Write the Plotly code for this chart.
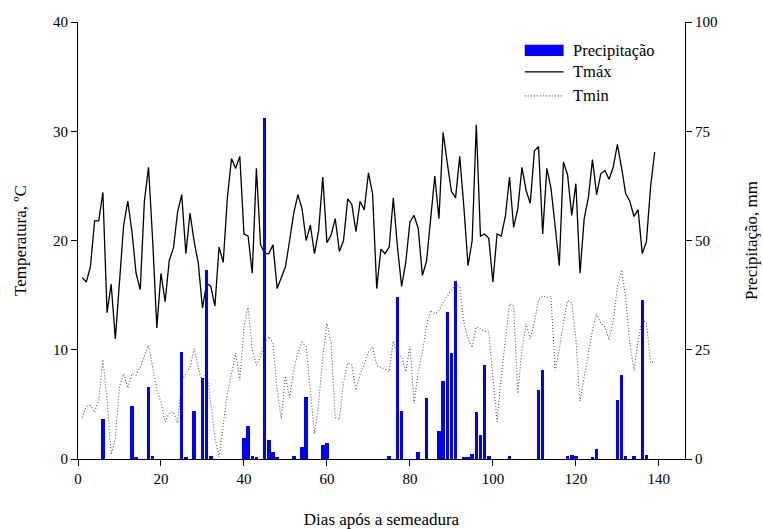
import plotly.graph_objects as go

days = list(range(1, 140))

tmax = [16.6, 16.2, 17.6, 21.8, 21.8, 24.4, 13.4, 16.0, 11.0, 16.4,
        21.4, 23.6, 20.8, 17.0, 15.5, 23.6, 26.7, 20.0, 12.0, 17.0,
        14.4, 18.2, 19.3, 22.6, 24.2, 18.8, 22.5, 19.9, 17.9, 13.8,
        16.1, 15.8, 14.0, 19.4, 18.0, 23.9, 27.5, 26.6, 27.7, 20.6,
        20.4, 17.0, 26.6, 19.6, 18.8, 18.8, 19.6, 15.6, 16.7, 17.6,
        20.0, 22.5, 24.2, 22.9, 20.0, 21.4, 18.8, 20.9, 25.8, 19.8,
        20.5, 22.0, 19.0, 20.0, 23.8, 23.3, 20.8, 23.6, 22.8, 26.2,
        24.3, 15.6, 19.2, 18.8, 19.4, 23.9, 19.4, 15.8, 18.0, 21.7,
        22.3, 21.1, 16.8, 18.1, 22.0, 25.9, 22.0, 29.9, 27.1, 24.5,
        23.9, 27.7, 23.1, 17.7, 20.0, 30.6, 20.4, 20.6, 20.2, 16.2,
        20.6, 20.4, 22.2, 25.8, 21.2, 22.9, 26.7, 24.6, 23.4, 28.2,
        28.6, 20.6, 26.6, 24.8, 21.3, 17.7, 27.2, 26.0, 22.3, 25.2,
        17.0, 22.0, 23.9, 27.4, 24.2, 26.1, 26.4, 25.6, 26.7, 28.8,
        26.7, 24.3, 23.6, 22.2, 22.8, 18.8, 19.9, 24.9, 28.1]

tmin = [3.8, 4.8, 4.9, 4.3, 5.4, 9.1, 5.4, 0.4, 1.9, 6.6,
        7.8, 6.5, 7.8, 7.7, 8.4, 9.4, 10.4, 8.4, 6.3, 5.2,
        3.4, 4.2, 4.3, 3.3, 7.2, 7.8, 8.4, 10.1, 8.3, 6.9,
        8.1, 5.1, 1.9, 0.2, 3.3, 6.0, 7.8, 9.7, 7.2, 12.1,
        14.0, 10.0, 8.6, 9.4, 10.6, 11.2, 10.6, 6.3, 3.7, 7.6,
        5.6, 8.1, 9.7, 10.7, 10.3, 6.0, 2.3, 5.1, 9.4, 12.4,
        10.6, 3.8, 3.6, 7.0, 8.8, 8.6, 6.3, 7.8, 8.6, 9.8,
        10.3, 8.6, 8.4, 8.2, 8.0, 10.8, 9.4, 9.4, 8.0, 10.3,
        5.1, 8.0, 9.8, 12.2, 13.6, 13.3, 13.6, 14.3, 14.9, 15.5,
        15.9, 15.8, 12.5, 11.0, 10.2, 12.1, 11.9, 11.7, 11.6, 7.5,
        3.4, 7.5, 11.0, 14.2, 14.0, 6.0, 10.0, 12.4, 11.0, 12.5,
        14.6, 14.9, 14.8, 14.9, 8.1, 10.0, 12.4, 14.5, 14.3, 11.0,
        5.3, 7.5, 10.0, 11.8, 13.3, 12.4, 12.1, 10.9, 12.7, 15.7,
        17.3, 14.8, 10.6, 8.1, 10.9, 12.7, 12.5, 8.8, 9.0]

rain_days = [6, 13, 14, 17, 18, 25, 26, 28, 30, 31, 32, 40, 41, 42, 43,
             45, 46, 47, 48, 52, 54, 55, 59, 60, 75, 77, 78, 82, 84, 87,
             88, 89, 90, 91, 93, 94, 95, 96, 97, 98, 99, 104, 111, 112,
             118, 119, 120, 124, 125, 130, 131, 132, 134, 136, 137]
rain_mm = [9.2, 12.1, 0.5, 16.4, 0.8, 24.6, 0.3, 11.0, 18.5, 43.2, 0.8,
           4.9, 7.6, 0.8, 0.5, 78.0, 4.3, 1.7, 0.5, 0.6, 2.7, 14.1, 3.1,
           3.7, 0.6, 37.0, 11.0, 1.5, 13.9, 6.3, 17.9, 33.6, 24.3, 40.8,
           0.3, 0.3, 1.1, 10.7, 5.6, 21.4, 0.8, 0.7, 15.8, 20.4, 0.8, 0.9,
           0.6, 0.3, 2.3, 13.5, 19.2, 0.6, 0.6, 36.4, 1.0]

x_ticks = [0, 20, 40, 60, 80, 100, 120, 140]
t_ticks = [0, 10, 20, 30, 40]
p_ticks = [0, 25, 50, 75, 100]

FONT = "Liberation Serif"
DOT = "1px,2px"
DOTCOL = "#555555"

fig = go.Figure()
fig.add_trace(go.Scatter(x=days, y=tmax, mode="lines", name="Tmáx",
                         line=dict(color="black", width=1.3), yaxis="y"))
fig.add_trace(go.Scatter(x=days, y=tmin, mode="lines", name="Tmin",
                         line=dict(color=DOTCOL, width=1.1, dash=DOT), yaxis="y"))
fig.add_trace(go.Bar(x=rain_days, y=rain_mm, name="Precipitação", width=0.85,
                     marker=dict(color="#0000FF", line=dict(width=0)), yaxis="y2"))

axis_common = dict(showgrid=False, zeroline=False, showline=True, linecolor="black",
                   linewidth=1, ticks="outside", ticklen=6, tickcolor="black",
                   automargin=False,
                   tickfont=dict(family=FONT, size=15, color="black"))

fig.update_layout(
    width=763, height=529,
    margin=dict(l=78, r=78, t=22, b=70),
    plot_bgcolor="white", paper_bgcolor="white",
    showlegend=False,
    bargap=0,
    font=dict(family=FONT, color="black"),
    xaxis=dict(range=[0, 146.3], tickvals=x_ticks,
               title=dict(text="Dias após a semeadura", font=dict(family=FONT, size=17),
                          standoff=32),
               **axis_common),
    yaxis=dict(range=[0, 40], tickvals=t_ticks,
               title=dict(text="Temperatura, ºC", font=dict(family=FONT, size=17),
                          standoff=22),
               **axis_common),
    yaxis2=dict(range=[0, 100], tickvals=p_ticks, overlaying="y", side="right",
                title=dict(text="Precipitação, mm", font=dict(family=FONT, size=17),
                           standoff=28),
                **axis_common),
)

# custom legend (keys as shapes, labels as text)
lx0, lx1, tx = 0.736, 0.80, 0.812
fig.add_shape(type="rect", xref="paper", yref="paper", x0=lx0, x1=lx1, y0=0.922, y1=0.948,
              fillcolor="#0000FF", line=dict(width=0))
fig.add_shape(type="line", xref="paper", yref="paper", x0=lx0, x1=lx1, y0=0.886, y1=0.886,
              line=dict(color="black", width=1.3))
fig.add_shape(type="line", xref="paper", yref="paper", x0=lx0, x1=lx1, y0=0.831, y1=0.831,
              line=dict(color=DOTCOL, width=1.1, dash=DOT))
for label, yy in [("Precipitação", 0.935), ("Tmáx", 0.886), ("Tmin", 0.831)]:
    fig.add_annotation(xref="paper", yref="paper", x=tx, y=yy, text=label, showarrow=False,
                       xanchor="left", yanchor="middle",
                       font=dict(family=FONT, size=16.5, color="black"))

fig.write_html("out.html")
